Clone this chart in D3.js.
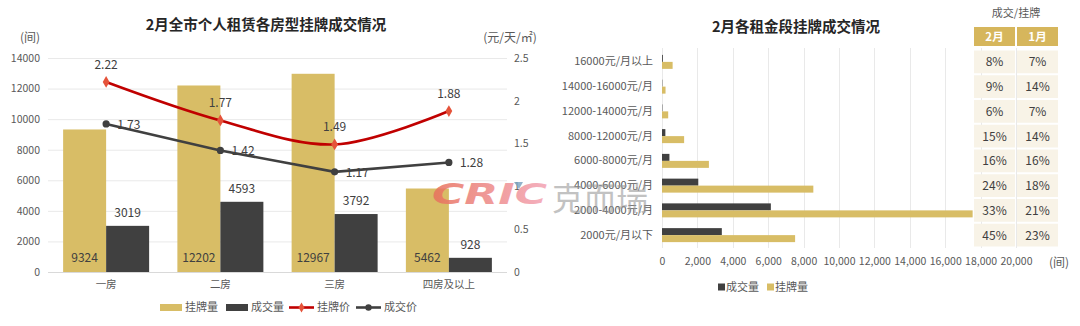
<!DOCTYPE html>
<html>
<head>
<meta charset="utf-8">
<script src="https://cdn.jsdelivr.net/npm/d3@7/dist/d3.min.js"></script>
<style>
  html, body { margin: 0; padding: 0; background: #fff; }
  svg { display: block; font-family: "Noto Sans CJK SC", "Noto Sans", sans-serif; }
</style>
</head>
<body>
<svg id="chart" width="1080" height="326"></svg>
<script>
// ---- Room type chart data ----
const roomTypes = ["一房", "二房", "三房", "四房及以上"];
const listingCount = [9324, 12202, 12967, 5462];
const dealCount = [3019, 4593, 3792, 928];
const listingPrice = [2.22, 1.77, 1.49, 1.88];
const dealPrice = [1.73, 1.42, 1.17, 1.28];
const leftTicks = [0, 2000, 4000, 6000, 8000, 10000, 12000, 14000];
const rightTicks = [0, 0.5, 1, 1.5, 2, 2.5];

// ---- Rent band chart data ----
const rentBands = ["16000元/月以上", "14000-16000元/月", "12000-14000元/月", "8000-12000元/月",
                   "6000-8000元/月", "4000-6000元/月", "2000-4000元/月", "2000元/月以下"];
const bandDeal = [48, 18, 21, 190, 420, 2050, 6150, 3380];
const bandListing = [600, 200, 350, 1250, 2650, 8550, 17550, 7520];
const ratioFeb = ["8%", "9%", "6%", "15%", "16%", "24%", "33%", "45%"];
const ratioJan = ["7%", "14%", "7%", "14%", "16%", "18%", "21%", "23%"];
const bandTicks = [0, 2000, 4000, 6000, 8000, 10000, 12000, 14000, 16000, 18000, 20000];

const GOLD = "#D8BD66";
const DARK = "#404040";
const RED = "#C00000";
const RED_MARK = "#E5533A";
const GRID = "#E9E9E9";
const TXT = "#595959";

const svg = d3.select("#chart");

// ================= Left: room types =================
const L = svg.append("g");
const x0 = d3.scaleBand().domain(roomTypes).range([49, 506]);
const bw = x0.bandwidth();
const x1 = d3.scaleBand().domain(["listing", "deal"]).range([bw / 2 - 43, bw / 2 + 43]);
const yL = d3.scaleLinear().domain([0, 14000]).range([272, 58]);
const yR = d3.scaleLinear().domain([0, 2.5]).range([272, 58]);

L.append("text").attr("x", 266).attr("y", 30).attr("text-anchor", "middle")
  .attr("font-size", 14.5).attr("font-weight", "bold").attr("fill", "#262626")
  .text("2月全市个人租赁各房型挂牌成交情况");
L.append("text").attr("x", 30).attr("y", 42).attr("text-anchor", "middle")
  .attr("font-size", 12).attr("fill", TXT).text("(间)");
L.append("text").attr("x", 510).attr("y", 42).attr("text-anchor", "middle")
  .attr("font-size", 12).attr("fill", TXT).text("(元/天/㎡)");

// gridlines + left axis
const gl = L.append("g");
gl.selectAll("line").data(leftTicks).join("line")
  .attr("x1", 48).attr("x2", 507)
  .attr("y1", d => yL(d) + 0.5).attr("y2", d => yL(d) + 0.5)
  .attr("stroke", d => d === 0 ? "#D9D9D9" : GRID).attr("stroke-width", 1);
const axL = L.append("g").attr("transform", "translate(40,0)")
  .call(d3.axisLeft(yL).tickValues(leftTicks).tickSize(0).tickPadding(0).tickFormat(d3.format("d")));
axL.select(".domain").remove();
axL.selectAll("text").attr("font-size", 10.5).attr("fill", TXT).attr("font-family", "Noto Sans CJK SC");

const axR = L.append("g").attr("transform", "translate(514,0)")
  .call(d3.axisRight(yR).tickValues(rightTicks).tickSize(0).tickPadding(0).tickFormat(d => String(d)));
axR.select(".domain").remove();
axR.selectAll("text").attr("font-size", 10.5).attr("fill", TXT).attr("font-family", "Noto Sans CJK SC");

const axB = L.append("g").attr("transform", "translate(0,272)")
  .call(d3.axisBottom(x0).tickSize(0).tickPadding(9));
axB.select(".domain").remove();
axB.selectAll("text").attr("font-size", 10.5).attr("fill", TXT).attr("font-family", "Noto Sans CJK SC");

// bars
const roomRows = roomTypes.map((r, i) => ({ r, listing: listingCount[i], deal: dealCount[i] }));
const grp = L.append("g").selectAll("g").data(roomRows).join("g")
  .attr("transform", d => `translate(${x0(d.r)},0)`);
grp.append("rect").attr("x", x1("listing")).attr("width", x1.bandwidth())
  .attr("y", d => yL(d.listing)).attr("height", d => yL(0) - yL(d.listing)).attr("fill", GOLD);
grp.append("rect").attr("x", x1("deal")).attr("width", x1.bandwidth())
  .attr("y", d => yL(d.deal)).attr("height", d => yL(0) - yL(d.deal)).attr("fill", DARK);
grp.append("text").attr("x", x1("listing") + x1.bandwidth() / 2).attr("y", 262)
  .attr("text-anchor", "middle").attr("font-size", 12).attr("fill", "#404040")
  .text(d => d.listing);
grp.append("text").attr("x", x1("deal") + x1.bandwidth() / 2).attr("y", d => yL(d.deal) - 9)
  .attr("text-anchor", "middle").attr("font-size", 12).attr("fill", "#404040")
  .text(d => d.deal);

// price lines
const cx = r => x0(r) + bw / 2;
const redPts = roomTypes.map((r, i) => [cx(r), yR(listingPrice[i])]);
const darkPts = roomTypes.map((r, i) => [cx(r), yR(dealPrice[i])]);
L.append("path").attr("d", d3.line().curve(d3.curveCatmullRom.alpha(0.5))(redPts))
  .attr("fill", "none").attr("stroke", RED).attr("stroke-width", 2.6);
L.append("path").attr("d", d3.line()(darkPts))
  .attr("fill", "none").attr("stroke", DARK).attr("stroke-width", 2.6);
L.append("g").selectAll("path").data(redPts).join("path")
  .attr("d", d3.symbol(d3.symbolDiamond, 40)())
  .attr("transform", d => `translate(${d[0]},${d[1]})`).attr("fill", RED_MARK);
L.append("g").selectAll("circle").data(darkPts).join("circle")
  .attr("cx", d => d[0]).attr("cy", d => d[1]).attr("r", 3.6).attr("fill", DARK);
L.append("g").selectAll("text").data(roomTypes).join("text")
  .attr("x", r => cx(r)).attr("y", (r, i) => yR(listingPrice[i]) - 13)
  .attr("text-anchor", "middle").attr("font-size", 12).attr("fill", "#404040")
  .text((r, i) => listingPrice[i].toFixed(2));
L.append("g").selectAll("text").data(roomTypes).join("text")
  .attr("x", r => cx(r) + 11).attr("y", (r, i) => yR(dealPrice[i]) + 5)
  .attr("font-size", 12).attr("fill", "#404040")
  .text((r, i) => dealPrice[i].toFixed(2));

// legend
const legL = L.append("g").attr("font-size", 11).attr("fill", TXT);
legL.append("rect").attr("x", 160).attr("y", 304).attr("width", 22).attr("height", 7).attr("fill", GOLD);
legL.append("text").attr("x", 185).attr("y", 311).text("挂牌量");
legL.append("rect").attr("x", 226).attr("y", 304).attr("width", 22).attr("height", 7).attr("fill", DARK);
legL.append("text").attr("x", 251).attr("y", 311).text("成交量");
legL.append("line").attr("x1", 289).attr("x2", 314).attr("y1", 307.5).attr("y2", 307.5)
  .attr("stroke", RED).attr("stroke-width", 2.6);
legL.append("path").attr("d", d3.symbol(d3.symbolDiamond, 30)())
  .attr("transform", "translate(301.5,307.5)").attr("fill", RED_MARK);
legL.append("text").attr("x", 317).attr("y", 311).text("挂牌价");
legL.append("line").attr("x1", 356).attr("x2", 381).attr("y1", 307.5).attr("y2", 307.5)
  .attr("stroke", DARK).attr("stroke-width", 2.6);
legL.append("circle").attr("cx", 368.5).attr("cy", 307.5).attr("r", 3.2).attr("fill", DARK);
legL.append("text").attr("x", 384).attr("y", 311).text("成交价");

// ================= Right: rent bands =================
const R = svg.append("g");
const xH = d3.scaleLinear().domain([0, 20000]).range([662, 1016]);
const yH = d3.scaleBand().domain(rentBands).range([49.5, 247.5]);
const bh = 7;

R.append("text").attr("x", 796).attr("y", 32).attr("text-anchor", "middle")
  .attr("font-size", 14.5).attr("font-weight", "bold").attr("fill", "#262626")
  .text("2月各租金段挂牌成交情况");

R.append("g").selectAll("line").data(bandTicks).join("line")
  .attr("x1", d => Math.round(xH(d)) + 0.5).attr("x2", d => Math.round(xH(d)) + 0.5)
  .attr("y1", 48).attr("y2", 248).attr("stroke", GRID);

const axH = R.append("g").attr("transform", "translate(0,256)")
  .call(d3.axisBottom(xH).tickValues(bandTicks).tickSize(0).tickPadding(0).tickFormat(d3.format(",")));
axH.select(".domain").remove();
axH.selectAll("text").attr("font-size", 10.5).attr("fill", TXT).attr("dy", "0.9em")
  .attr("font-family", "Noto Sans CJK SC");
R.append("text").attr("x", 1059).attr("y", 267).attr("text-anchor", "middle")
  .attr("font-size", 12).attr("fill", TXT).text("(间)");

const axV = R.append("g").attr("transform", "translate(653,0)")
  .call(d3.axisLeft(yH).tickSize(0).tickPadding(0));
axV.select(".domain").remove();
axV.selectAll("text").attr("font-size", 11).attr("fill", TXT).attr("font-family", "Noto Sans CJK SC");

const bandRows = rentBands.map((b, i) => ({ b, deal: bandDeal[i], listing: bandListing[i] }));
R.append("g").selectAll("rect").data(bandRows).join("rect")
  .attr("x", xH(0)).attr("y", d => yH(d.b) + yH.bandwidth() / 2 - bh)
  .attr("width", d => xH(d.deal) - xH(0)).attr("height", bh).attr("fill", DARK);
R.append("g").selectAll("rect").data(bandRows).join("rect")
  .attr("x", xH(0)).attr("y", d => yH(d.b) + yH.bandwidth() / 2)
  .attr("width", d => xH(d.listing) - xH(0)).attr("height", bh).attr("fill", GOLD);

// legend
const legR = R.append("g").attr("font-size", 11).attr("fill", TXT);
legR.append("rect").attr("x", 718).attr("y", 283.5).attr("width", 7).attr("height", 7).attr("fill", DARK);
legR.append("text").attr("x", 726).attr("y", 291).text("成交量");
legR.append("rect").attr("x", 767).attr("y", 283.5).attr("width", 7).attr("height", 7).attr("fill", GOLD);
legR.append("text").attr("x", 775).attr("y", 291).text("挂牌量");

// ratio table
const colX = [974, 1017];
const colW = 41;
const T = R.append("g");
T.append("text").attr("x", (colX[0] + colX[1] + colW) / 2).attr("y", 17).attr("text-anchor", "middle")
  .attr("font-size", 11).attr("fill", TXT).text("成交/挂牌");
["2月", "1月"].forEach((h, j) => {
  T.append("rect").attr("x", colX[j]).attr("y", 27).attr("width", colW).attr("height", 19).attr("fill", "#D6B65C");
  T.append("text").attr("x", colX[j] + colW / 2).attr("y", 41).attr("text-anchor", "middle")
    .attr("font-size", 11.5).attr("font-weight", "bold").attr("fill", "#fff").text(h);
});
[ratioFeb, ratioJan].forEach((col, j) => {
  T.append("g").selectAll("rect").data(rentBands).join("rect")
    .attr("x", colX[j]).attr("y", b => yH(b) + 1).attr("width", colW).attr("height", yH.bandwidth() - 2)
    .attr("fill", "#F8F3E7");
  T.append("g").selectAll("text").data(rentBands).join("text")
    .attr("x", colX[j] + colW / 2).attr("y", b => yH(b) + yH.bandwidth() / 2 + 4.5)
    .attr("text-anchor", "middle").attr("font-size", 12).attr("fill", "#404040")
    .text((b, i) => col[i]);
});

// ================= Brand mark =================
const W = svg.append("g");
const defs = svg.append("defs");
const grad = defs.append("linearGradient").attr("id", "brandGrad").attr("x1", "0").attr("x2", "1");
grad.append("stop").attr("offset", "0").attr("stop-color", "#E8705C");
grad.append("stop").attr("offset", "1").attr("stop-color", "#F3A3B4");
W.append("text").attr("x", 432).attr("y", 204).attr("font-size", 28).attr("font-weight", 900)
  .attr("font-style", "italic").attr("font-family", "DejaVu Sans")
  .attr("textLength", 115).attr("lengthAdjust", "spacingAndGlyphs")
  .attr("fill", "url(#brandGrad)").attr("opacity", 0.85).text("CRIC");
W.append("path").attr("d", "M514,182 L523,182 L519,189 Z").attr("fill", "#7FA6C2").attr("opacity", 0.85);
W.append("text").attr("x", 552).attr("y", 210).attr("font-size", 32)
  .attr("fill", "#9A9A9A").attr("opacity", 0.6).text("克而瑞");
</script>
</body>
</html>
